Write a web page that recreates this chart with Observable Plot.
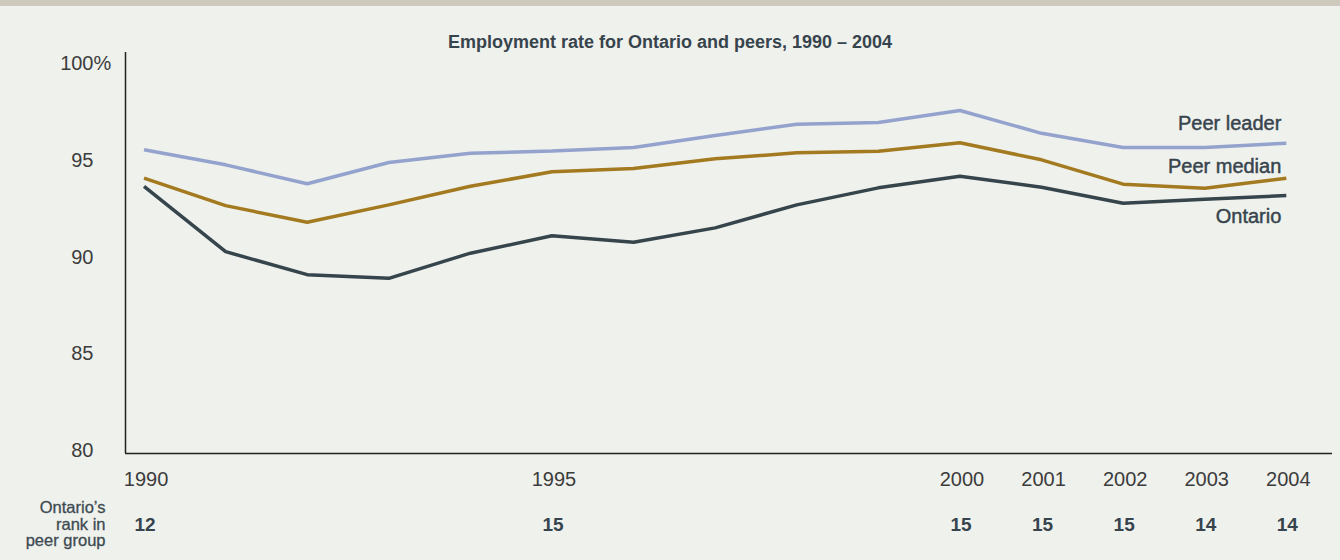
<!DOCTYPE html>
<html><head><meta charset="utf-8">
<script src="https://cdn.jsdelivr.net/npm/d3@7"></script>
<script src="https://cdn.jsdelivr.net/npm/@observablehq/plot@0.6"></script>
<style>
html,body{margin:0;padding:0;background:#eff1ec;}
#wrap{position:relative;width:1340px;height:560px;overflow:hidden;font-family:"Liberation Sans",Arial,sans-serif;}
#strip{position:absolute;left:0;top:0;width:1340px;height:6px;background:#cdc9bd;}
#title{position:absolute;left:0;top:32px;width:1340px;text-align:center;font-weight:bold;font-size:18px;line-height:20px;color:#37444d;}
#chart svg{display:block;}
</style></head><body>
<div id="wrap"><div id="chart"></div><div id="strip"></div><div id="title">Employment rate for Ontario and peers, 1990 – 2004</div></div>
<script>
const years = [1990,1991,1992,1993,1994,1995,1996,1997,1998,1999,2000,2001,2002,2003,2004];
const peerLeader = [95.56,94.78,93.80,94.90,95.38,95.49,95.68,96.30,96.88,96.97,97.59,96.41,95.68,95.68,95.90];
const peerMedian = [94.09,92.67,91.81,92.71,93.67,94.42,94.59,95.09,95.40,95.48,95.92,95.04,93.78,93.57,94.09];
const ontario    = [93.67,90.29,89.10,88.91,90.21,91.11,90.78,91.52,92.71,93.59,94.19,93.62,92.79,93.00,93.19];
const tickYears = [1990,1995,2000,2001,2002,2003,2004];
const ranks = [12,15,15,15,15,14,14];
const yTicks = [80,85,90,95,100];
const seriesNames = ["Peer leader","Peer median","Ontario"];
const seriesColors = ["#94a3cd","#a37a20","#36444c"];
const rankLabel = "Ontario’s\nrank in\npeer group";

const seriesValues = [peerLeader, peerMedian, ontario];
const rows = [];
seriesNames.forEach((name,i)=>years.forEach((yr,j)=>rows.push({series:name, year:yr, value:seriesValues[i][j]})));
const lastRows = seriesNames.map((name,i)=>({series:name, year:years[years.length-1], value:seriesValues[i][years.length-1]}));
const rankRows = tickYears.map((yr,i)=>({year:yr, rank:ranks[i]}));
const xDomain = [1989.773, 2004.566];
const yDomain = [79.85, 100.59];
const font = '"Liberation Sans", Arial, sans-serif';
const tickColor = "#3c3c3c";
const labelColor = "#37444d";
const seriesLabelStyle = {x:"year", y:"value", text:"series", textAnchor:"end", dx:-5, fontSize:20, fill:labelColor, stroke:labelColor, strokeWidth:0.45};

const chart = Plot.plot({
  width:1340, height:560,
  marginLeft:125, marginRight:8, marginTop:52, marginBottom:107,
  style:{background:"transparent", fontFamily:font, overflow:"visible"},
  x:{domain:xDomain, label:null},
  y:{domain:yDomain, label:null},
  color:{domain:seriesNames, range:seriesColors},
  marks:[
    Plot.axisX({ticks:tickYears, tickSize:0, tickPadding:18, tickFormat:d=>String(d), fontSize:20, fill:tickColor, dx:2, label:null}),
    Plot.axisY({ticks:yTicks, tickSize:0, tickPadding:32, tickFormat:d=>String(d), fontSize:20, fill:tickColor, label:null}),
    Plot.text([{x:xDomain[0], y:yTicks[yTicks.length-1], t:"%"}], {x:"x", y:"y", text:"t", textAnchor:"start", dx:-32, fontSize:20, fill:tickColor}),
    Plot.ruleX([xDomain[0]], {stroke:"#222", strokeWidth:1.5}),
    Plot.ruleY([yDomain[0]], {stroke:"#222", strokeWidth:1.5}),
    Plot.line(rows, {x:"year", y:"value", z:"series", stroke:"series", strokeWidth:3.5, strokeLinejoin:"miter", strokeLinecap:"butt"}),
    Plot.text(lastRows.filter(d=>d.series==="Peer leader"), {...seriesLabelStyle, dy:-20}),
    Plot.text(lastRows.filter(d=>d.series==="Peer median"), {...seriesLabelStyle, dy:-12}),
    Plot.text(lastRows.filter(d=>d.series==="Ontario"), {...seriesLabelStyle, dy:21}),
    Plot.text(rankRows, {x:"year", text:d=>String(d.rank), frameAnchor:"bottom", lineAnchor:"middle", dy:71, dx:1, fontSize:19, fontWeight:"bold", fill:labelColor}),
    Plot.text([{x:xDomain[0], label:rankLabel}], {x:"x", text:"label", frameAnchor:"bottom", lineAnchor:"middle", dy:71, dx:-20, textAnchor:"end", lineHeight:1.0, fontSize:16.5, fill:"#3d4a52", stroke:"#3d4a52", strokeWidth:0.3})
  ]
});
document.getElementById("chart").appendChild(chart);
</script>
</body></html>
